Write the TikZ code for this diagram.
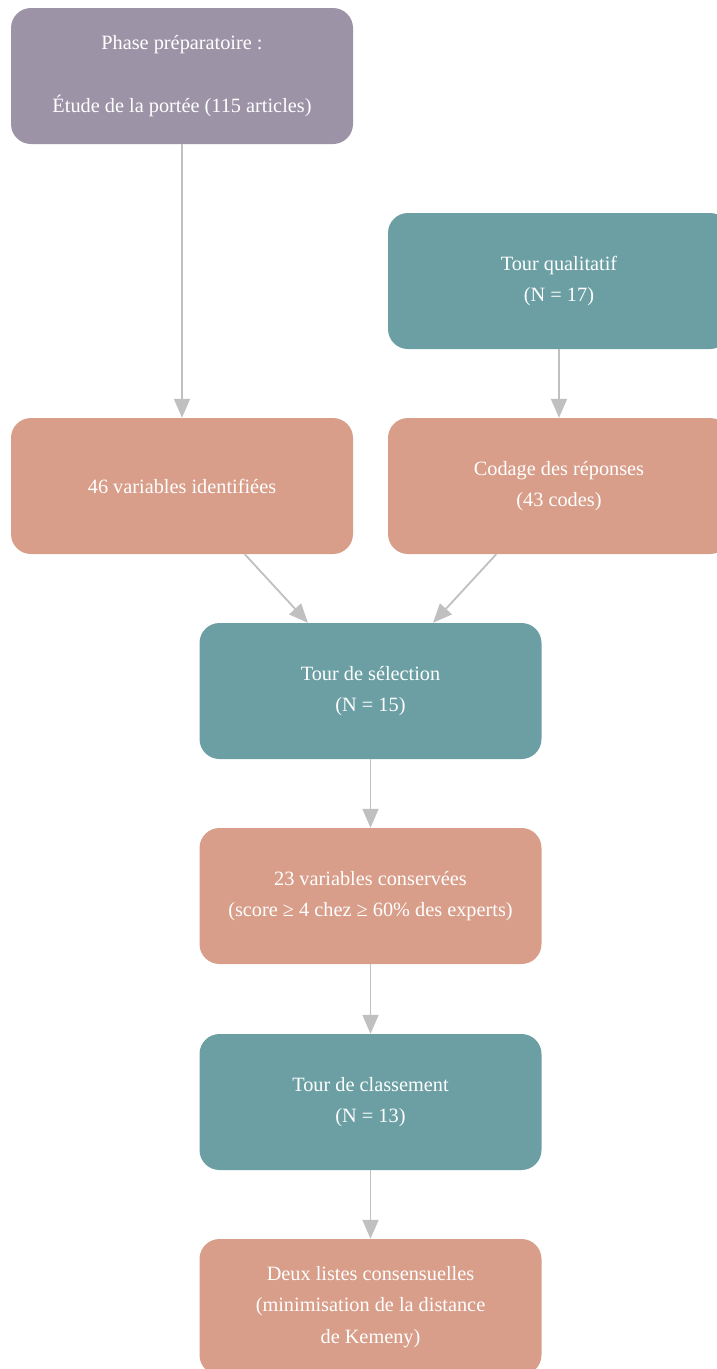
\documentclass[tikz,border=0pt]{standalone}
\usepackage{fontspec}
\setmainfont{Liberation Serif}
\usetikzlibrary{arrows.meta,positioning}
\definecolor{prepcol}{HTML}{9D93A7}
\definecolor{tourcol}{HTML}{6B9FA3}
\definecolor{rescol}{HTML}{D89E8A}
\definecolor{arrcol}{HTML}{C0C0C0}
\tikzset{
  blk/.style={rectangle,rounded corners=20pt,minimum width=342pt,minimum height=136pt,align=center,text=white,font=\fontsize{20.3}{31.5}\selectfont,inner sep=0pt},
  prepblk/.style={blk,fill=prepcol},
  tourblk/.style={blk,fill=tourcol},
  resblk/.style={blk,fill=rescol},
  arr/.style={-{Triangle[length=19pt,width=16pt]},arrcol,line width=1.8pt}
}
\begin{document}
\begin{tikzpicture}[x=1pt,y=-1pt]
  \useasboundingbox (0,0) rectangle (717,1369);
  % Top row
  \node[prepblk] (prep) at (182,76) {Phase préparatoire :\\[31.5pt]Étude de la portée (115 articles)};
  \node[tourblk] (qual) at (559,281) {Tour qualitatif\\(N = 17)};

  % Second row
  \node[resblk] (var46) at (182,486) {46 variables identifiées};
  \node[resblk] (codage) at (559,486) {Codage des réponses\\(43 codes)};

  % Main column
  \node[tourblk] (select) at (370.5,691) {Tour de sélection\\(N = 15)};
  \node[resblk] (conserv) at (370.5,896) {23 variables conservées\\(score ≥ 4 chez ≥ 60\% des experts)};
  \node[tourblk] (classmt) at (370.5,1102) {Tour de classement\\(N = 13)};
  \node[resblk] (listes) at (370.5,1307) {Deux listes consensuelles\\(minimisation de la distance\\de Kemeny)};

  % Connections
  \draw[arr] (prep) -- (var46);
  \draw[arr] (qual) -- (codage);
  \draw[arr] (var46) -- (select);
  \draw[arr] (codage) -- (select);
  \draw[arr] (select) -- (conserv);
  \draw[arr] (conserv) -- (classmt);
  \draw[arr] (classmt) -- (listes);
\end{tikzpicture}
\end{document}
